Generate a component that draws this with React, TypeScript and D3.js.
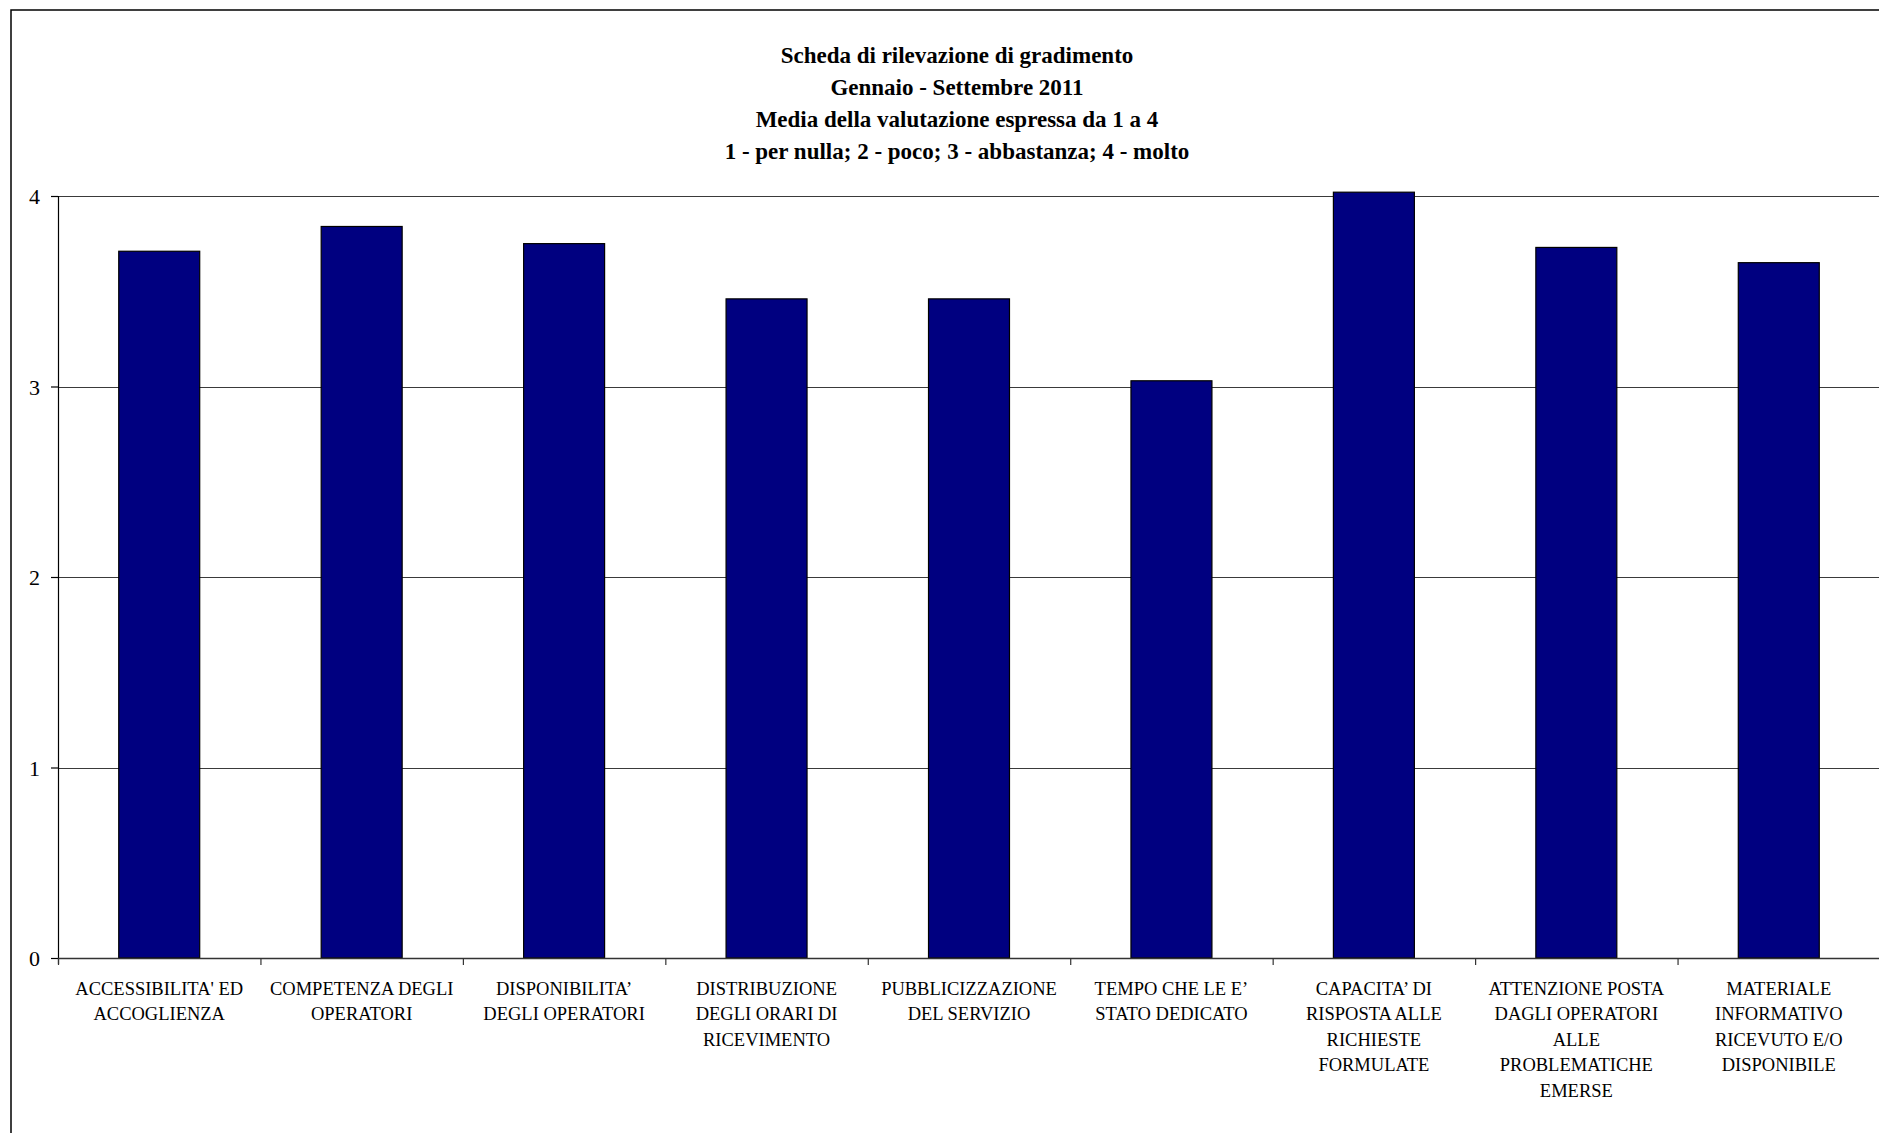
import React from "react";
import * as d3 from "d3";

// Satisfaction survey: mean score (1–4) per service aspect
const categories: string[] = [
  "ACCESSIBILITA' ED\nACCOGLIENZA",
  "COMPETENZA DEGLI\nOPERATORI",
  "DISPONIBILITA’\nDEGLI OPERATORI",
  "DISTRIBUZIONE\nDEGLI ORARI DI\nRICEVIMENTO",
  "PUBBLICIZZAZIONE\nDEL SERVIZIO",
  "TEMPO CHE LE E’\nSTATO DEDICATO",
  "CAPACITA’ DI\nRISPOSTA ALLE\nRICHIESTE\nFORMULATE",
  "ATTENZIONE POSTA\nDAGLI OPERATORI\nALLE\nPROBLEMATICHE\nEMERSE",
  "MATERIALE\nINFORMATIVO\nRICEVUTO E/O\nDISPONIBILE",
];

const values: number[] = [3.71, 3.84, 3.75, 3.46, 3.46, 3.03, 4.02, 3.73, 3.65];

const yTicks: number[] = [0, 1, 2, 3, 4];

const titleLines: string[] = [
  "Scheda di rilevazione di gradimento",
  "Gennaio - Settembre 2011",
  "Media della valutazione espressa da 1 a 4",
  "1 - per nulla; 2 - poco; 3 - abbastanza; 4 - molto",
];

const W = 1879;
const H = 1133;
const plot = { left: 58, right: 1880, top: 196, bottom: 958 };
const FONT = "'Liberation Serif', 'Times New Roman', serif";

export default function App() {
  const x = d3
    .scaleBand<number>()
    .domain(d3.range(categories.length))
    .range([plot.left, plot.right])
    .paddingInner(0.6)
    .paddingOuter(0.3);

  const y = d3.scaleLinear().domain([0, 4]).range([plot.bottom, plot.top]);

  const step = x.step();
  const boundaries = d3.range(categories.length + 1).map((i) => plot.left + i * step);

  return (
    <svg
      width={W}
      height={H}
      viewBox={`0 0 ${W} ${H}`}
      style={{ position: "absolute", left: 0, top: 0, display: "block", background: "#fff" }}
    >
      <rect x={0} y={0} width={W} height={H} fill="#fff" />
      {/* chart frame */}
      <rect x={11} y={10} width={1920} height={1200} fill="none" stroke="#000" strokeWidth={1.5} />

      {/* title */}
      <g fontFamily={FONT} fontWeight="bold" fontSize={23} fill="#000" textAnchor="middle">
        {titleLines.map((t, i) => (
          <text key={i} x={957} y={62.5 + i * 32}>
            {t}
          </text>
        ))}
      </g>

      {/* horizontal gridlines */}
      <g>
        {yTicks
          .filter((t) => t > 0)
          .map((t) => (
            <line
              key={t}
              x1={plot.left}
              x2={plot.right}
              y1={Math.round(y(t)) + 0.5}
              y2={Math.round(y(t)) + 0.5}
              stroke="#3a3a3a"
              strokeWidth={1}
            />
          ))}
      </g>

      {/* bars */}
      <g>
        {values.map((v, i) => (
          <rect
            key={i}
            x={x(i)!}
            y={y(v)}
            width={x.bandwidth()}
            height={y(0) - y(v)}
            fill="#000080"
            stroke="#000"
            strokeWidth={1.2}
          />
        ))}
      </g>

      {/* y axis */}
      <line x1={plot.left + 0.5} x2={plot.left + 0.5} y1={plot.top} y2={plot.bottom + 6} stroke="#000" strokeWidth={1.2} />
      <g fontFamily={FONT} fontSize={22} fill="#000" textAnchor="end">
        {yTicks.map((t) => (
          <g key={t}>
            <line x1={plot.left - 7} x2={plot.left} y1={y(t) + 0.5} y2={y(t) + 0.5} stroke="#000" strokeWidth={1.2} />
            <text x={40} y={y(t) + 8}>
              {t}
            </text>
          </g>
        ))}
      </g>

      {/* x axis */}
      <line x1={plot.left} x2={plot.right} y1={plot.bottom + 0.5} y2={plot.bottom + 0.5} stroke="#333" strokeWidth={1.5} />
      {boundaries.map((bx, i) => (
        <line key={i} x1={bx + 0.5} x2={bx + 0.5} y1={plot.bottom} y2={plot.bottom + 7} stroke="#333" strokeWidth={1.2} />
      ))}
      <g fontFamily={FONT} fontSize={18.5} fill="#000" textAnchor="middle">
        {categories.map((c, i) => (
          <text key={i} x={x(i)! + x.bandwidth() / 2} y={995}>
            {c.split("\n").map((line, j) => (
              <tspan key={j} x={x(i)! + x.bandwidth() / 2} dy={j === 0 ? 0 : 25.4}>
                {line}
              </tspan>
            ))}
          </text>
        ))}
      </g>
    </svg>
  );
}
